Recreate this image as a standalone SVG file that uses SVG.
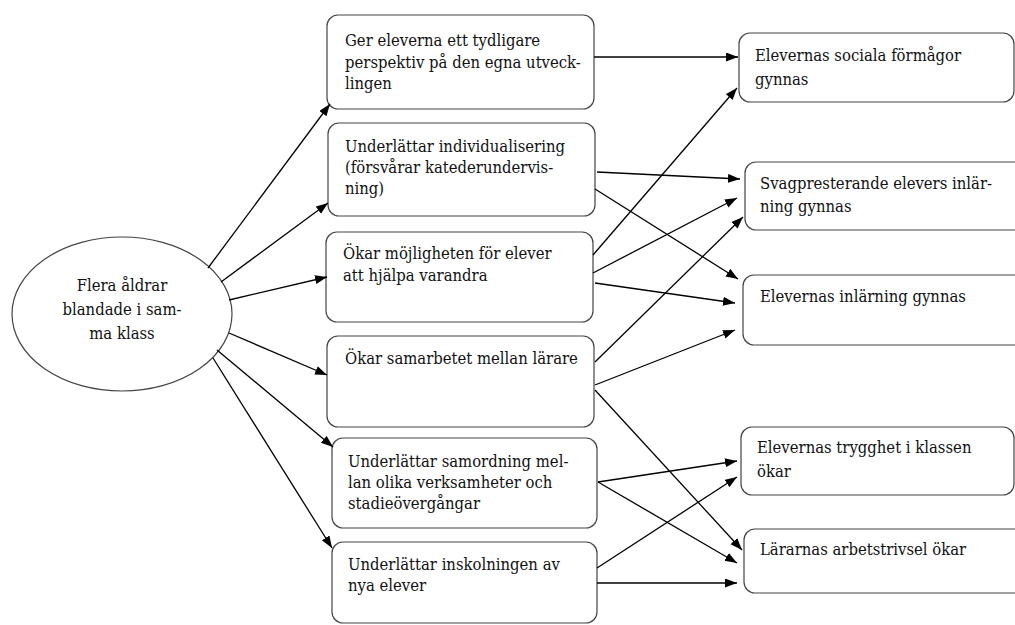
<svg xmlns="http://www.w3.org/2000/svg" width="1015" height="625" viewBox="0 0 1015 625">
<defs>
<style>
.bx{fill:#fff;stroke:#444;stroke-width:1.2}
.t{font-family:'DejaVu Serif Condensed','DejaVu Serif','Liberation Serif',serif;font-stretch:condensed;font-size:16.5px;fill:#111}
.c line{stroke:#000;stroke-width:1.3;marker-end:url(#ah)}
</style>
<marker id="ah" markerUnits="userSpaceOnUse" markerWidth="12" markerHeight="10" refX="12" refY="4.5" orient="auto">
<path d="M0,0 L12,4.5 L0,9 z" fill="#000"/>
</marker>
</defs>
<rect width="1015" height="625" fill="#fff"/>
<g id="n0">
<ellipse class="bx" cx="122" cy="314" rx="110" ry="77"/>
<text class="t" text-anchor="middle"><tspan x="122" y="291">Flera åldrar</tspan><tspan x="122" y="315">blandade i sam-</tspan><tspan x="122" y="339">ma klass</tspan></text>
</g>
<g id="m1">
<rect class="bx" x="327" y="15" width="267" height="94" rx="11"/>
<text class="t"><tspan x="345" y="46">Ger eleverna ett tydligare</tspan><tspan x="345" y="67.5">perspektiv på den egna utveck-</tspan><tspan x="345" y="89">lingen</tspan></text>
</g>
<g id="m2">
<rect class="bx" x="328" y="123" width="267" height="93" rx="11"/>
<text class="t"><tspan x="345" y="152">Underlättar individualisering</tspan><tspan x="345" y="173">(försvårar katederundervis-</tspan><tspan x="345" y="194">ning)</tspan></text>
</g>
<g id="m3">
<rect class="bx" x="326" y="232" width="267" height="90" rx="11"/>
<text class="t"><tspan x="343" y="259">Ökar möjligheten för elever</tspan><tspan x="343" y="281">att hjälpa varandra</tspan></text>
</g>
<g id="m4">
<rect class="bx" x="327" y="336" width="267" height="91" rx="11"/>
<text class="t"><tspan x="345" y="364">Ökar samarbetet mellan lärare</tspan></text>
</g>
<g id="m5">
<rect class="bx" x="332" y="438" width="265" height="90" rx="11"/>
<text class="t"><tspan x="348" y="467">Underlättar samordning mel-</tspan><tspan x="348" y="488">lan olika verksamheter och</tspan><tspan x="348" y="509">stadieövergångar</tspan></text>
</g>
<g id="m6">
<rect class="bx" x="332" y="542" width="265" height="81" rx="11"/>
<text class="t"><tspan x="348" y="570">Underlättar inskolningen av</tspan><tspan x="348" y="591">nya elever</tspan></text>
</g>
<g id="r1">
<rect class="bx" x="739" y="33" width="275" height="69" rx="11"/>
<text class="t"><tspan x="755" y="61">Elevernas sociala förmågor</tspan><tspan x="755" y="85">gynnas</tspan></text>
</g>
<g id="r2">
<rect class="bx" x="745" y="162" width="285" height="68" rx="11"/>
<text class="t"><tspan x="760" y="189">Svagpresterande elevers inlär-</tspan><tspan x="760" y="212">ning gynnas</tspan></text>
</g>
<g id="r3">
<rect class="bx" x="743" y="275" width="285" height="70" rx="11"/>
<text class="t"><tspan x="760" y="302">Elevernas inlärning gynnas</tspan></text>
</g>
<g id="r4">
<rect class="bx" x="741" y="427" width="273" height="68" rx="11"/>
<text class="t"><tspan x="757" y="453">Elevernas trygghet i klassen</tspan><tspan x="757" y="477">ökar</tspan></text>
</g>
<g id="r5">
<rect class="bx" x="744" y="529" width="285" height="64" rx="11"/>
<text class="t"><tspan x="760" y="555">Lärarnas arbetstrivsel ökar</tspan></text>
</g>
<g id="connectors" class="c">
<line x1="208" y1="268" x2="330" y2="104"/>
<line x1="221" y1="282" x2="328" y2="203"/>
<line x1="229" y1="300" x2="327" y2="277"/>
<line x1="229" y1="333" x2="327" y2="375"/>
<line x1="217" y1="350" x2="333" y2="447"/>
<line x1="213" y1="358" x2="332" y2="548"/>
<line x1="594" y1="57" x2="738" y2="57"/>
<line x1="597" y1="172" x2="740" y2="179"/>
<line x1="595" y1="189" x2="738" y2="279"/>
<line x1="593" y1="255" x2="737" y2="88"/>
<line x1="593" y1="273" x2="737" y2="198"/>
<line x1="595" y1="283" x2="735" y2="303"/>
<line x1="595" y1="362" x2="743" y2="217"/>
<line x1="595" y1="385" x2="735" y2="330"/>
<line x1="595" y1="390" x2="742" y2="550"/>
<line x1="598" y1="482" x2="737" y2="461"/>
<line x1="598" y1="482" x2="737" y2="563"/>
<line x1="597" y1="568" x2="737" y2="477"/>
<line x1="597" y1="583" x2="737" y2="583"/>
</g>
</svg>
